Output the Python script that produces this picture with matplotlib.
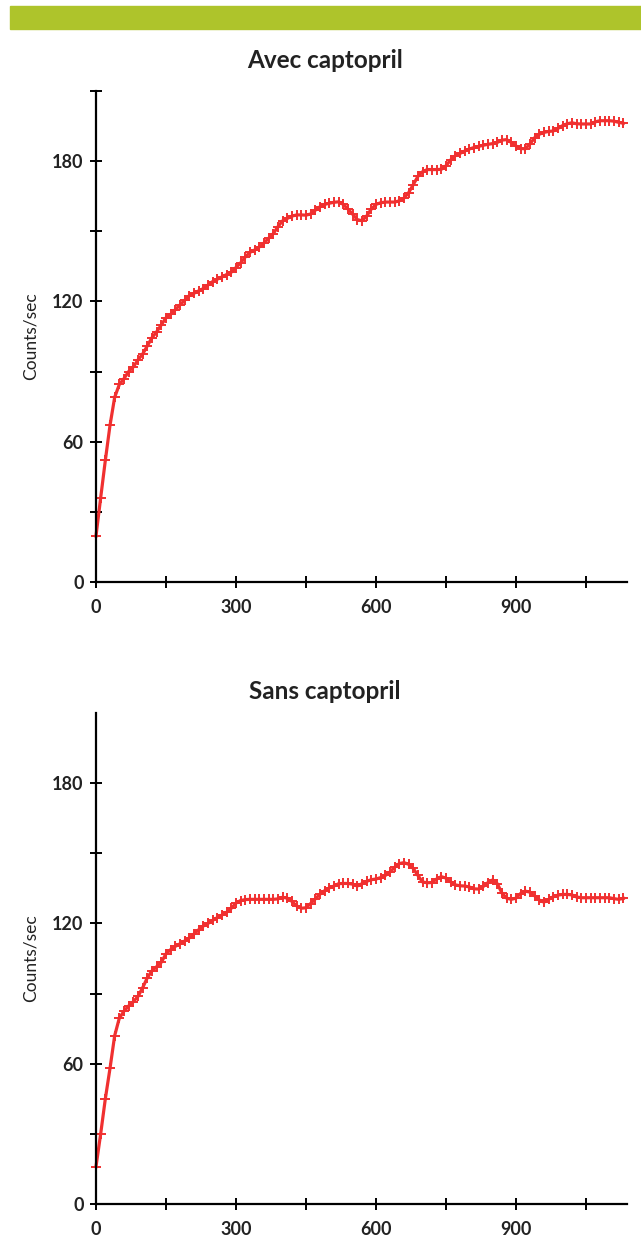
import matplotlib
matplotlib.use("Agg")
import matplotlib.pyplot as plt
from matplotlib.patches import Rectangle

plt.rcParams["font.family"] = ["Lato", "DejaVu Sans"]

# time axis (s), one sample every 10 s
time_s = list(range(0, 1140, 10))

avec_captopril = [
    19.7, 36, 52, 67, 79, 84.5, 87, 90, 92, 95,
    97.5, 101, 104.5, 107, 110, 113, 114.5, 116.5, 118.5, 120.5,
    122.5, 123.5, 124.5, 125.5, 127, 128.5, 129.5, 130.5, 131.5, 132.5,
    134.5, 136.5, 139, 141, 142, 143.3, 145, 147, 149, 152,
    154.5, 155.5, 156.5, 157, 157, 156.9, 157.4, 159, 160.5, 161.5,
    162, 162.4, 162.6, 161.5, 159.5, 157.3, 155, 154.5, 156.5, 159.5,
    161.5, 162.2, 162.5, 162.5, 162.5, 163, 164.2, 166.5, 170, 173.5,
    175.5, 176.4, 176.4, 176.4, 176.5, 178, 180.5, 182.3, 183.3, 184.3,
    185.2, 185.8, 186.3, 186.8, 187.2, 187.5, 188, 189, 189.2, 188,
    186.5, 185.4, 185.3, 187.3, 190, 191.5, 192.3, 192.7, 192.9, 194,
    195.2, 196, 196.4, 196, 195.9, 195.9, 195.9, 196.8, 197.3, 197.3,
    197.3, 197.1, 196.6, 196.2,
]

sans_captopril = [
    16, 30, 45, 58, 72, 79.5, 82.5, 84.7, 86.5, 88.8,
    92.5, 96.8, 99.7, 101.5, 103.4, 107, 108.8, 110.2, 111.3, 112.5,
    113.8, 115.5, 117.3, 118.9, 120, 121.3, 122.5, 123.6, 124.8, 126.5,
    128.7, 129.8, 130.2, 130.3, 130.3, 130.3, 130.3, 130.3, 130.3, 130.5,
    131.2, 130.8, 129.4, 127.5, 126.5, 126.7, 128.5, 130.5, 132.5, 134,
    135.2, 136, 137, 137.1, 137.1, 136.8, 136, 137, 138, 138.7,
    139, 139.6, 140.5, 142, 144, 145.6, 146, 145.3, 143.5, 140.5,
    137.7, 137.4, 137.5, 139, 140, 139.4, 137.8, 136.5, 136.1, 136,
    135.6, 134.8, 134.7, 135.8, 137.5, 138.6, 137, 133, 130.8, 130.3,
    130.8, 132.8, 133.8, 133.4, 131.8, 130, 129.1, 130.3, 131.4, 132.1,
    132.4, 132.4, 132.2, 131.3, 131, 131, 131, 131, 131, 131,
    131, 130.6, 130.3, 130.7,
]

titles = ["Avec captopril", "Sans captopril"]
y_label = "Counts/sec"
x_major = [0, 300, 600, 900]
x_minor = [150, 450, 750, 1050]
y_major = [0, 60, 120, 180]
y_minor_top = [30, 90, 150, 210]
y_minor_bottom = [30, 90, 150]

W, H = 641, 1236
fig = plt.figure(figsize=(W / 100, H / 100), dpi=100)

# green header band
fig.patches.append(Rectangle((10 / W, 1 - 29 / H), 1 - 10 / W, 23 / H,
                             transform=fig.transFigure, color="#AEC42B",
                             zorder=0))

panels = [
    (avec_captopril, 582, y_minor_top, 60),
    (sans_captopril, 1204, y_minor_bottom, 691),
]
for (series, base_px, y_minor, title_px), title in zip(panels, titles):
    ax = fig.add_axes([96 / W, 1 - base_px / H, 531 / W, 491 / H])
    ax.plot(time_s, series, color="#F03030", lw=2.3, marker="+",
            ms=6.5, mew=1.4, clip_on=False)
    ax.set_xlim(0, 1138)
    ax.set_ylim(0, 210)
    for side in ["top", "right"]:
        ax.spines[side].set_visible(False)
    for side in ["left", "bottom"]:
        ax.spines[side].set_linewidth(1.6)
    ax.set_xticks(x_major)
    ax.set_xticks(x_minor, minor=True)
    ax.set_yticks(y_major)
    ax.set_yticks(y_minor, minor=True)
    ax.tick_params(which="both", direction="inout", length=8, width=1.4,
                   labelsize=13)
    ax.tick_params(axis="x", pad=8)
    ax.tick_params(axis="y", pad=5)
    for lab in ax.get_xticklabels() + ax.get_yticklabels():
        lab.set_fontweight("bold")
        lab.set_color("#222222")
    ax.set_ylabel(y_label, fontsize=12.5, color="#222222")
    ax.yaxis.set_label_coords(-0.108, 0.5)
    fig.text(325 / W, 1 - title_px / H, title, ha="center", va="center",
             fontsize=17.5, fontweight="bold", color="#222222")

fig.savefig("out.png", dpi=100)
